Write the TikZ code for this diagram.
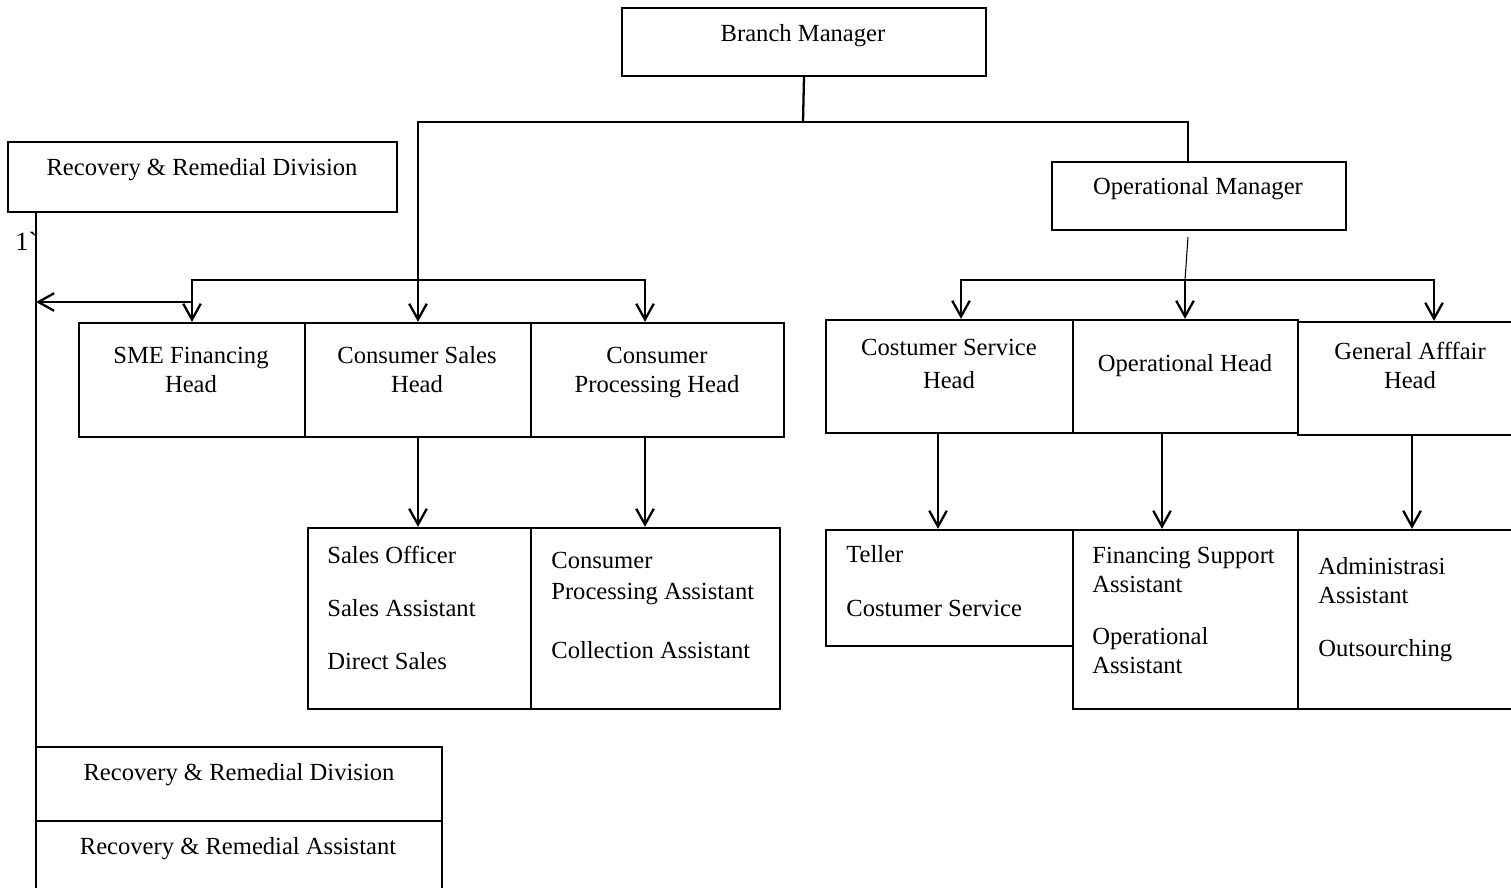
\documentclass[tikz,border=0pt]{standalone}
\usepackage{fontspec}
\setmainfont{Liberation Serif}
\newfontfamily\gravefont{Liberation Serif}
\usetikzlibrary{arrows.meta,fit}

\tikzset{
  box/.style={draw, line width=1.3pt, inner sep=0pt},
  txt/.style={font=\fontsize{14}{16.4}\selectfont, inner sep=0pt, align=center, anchor=base},
  itm/.style={font=\fontsize{14}{16.4}\selectfont, inner sep=0pt, align=left, anchor=base west},
  link/.style={line width=1.3pt},
  thinlink/.style={line width=0.6pt},
  arr/.style={line width=1.3pt, -{Straight Barb[length=9pt,width=10pt]}},
}

\begin{document}
\begin{tikzpicture}[x=0.02cm, y=-0.02cm]
\useasboundingbox (0,0) rectangle (1511,887);

% boxes
\node[box, fit={(622,8) (986,76)}] (bm) {};
\node[box, fit={(8,142) (397,212)}] (rrd) {};
\node[box, fit={(1052,162) (1346,230)}] (om) {};
\node[box, fit={(79,323) (305,437)}] (sme) {};
\node[box, fit={(305,323) (531,437)}] (csh) {};
\node[box, fit={(531,323) (784,437)}] (cph) {};
\node[box, fit={(826,320) (1073,433)}] (csv) {};
\node[box, fit={(1073,320) (1298,433)}] (oph) {};
\node[box, fit={(1298,322) (1516,435)}] (gah) {};
\node[box, fit={(308,528) (531,709)}] (sal) {};
\node[box, fit={(531,528) (780,709)}] (cpa) {};
\node[box, fit={(826,530) (1073,646)}] (tel) {};
\node[box, fit={(1073,530) (1298,709)}] (fsa) {};
\node[box, fit={(1298,530) (1516,709)}] (adm) {};
\node[box, fit={(36,747) (442,821)}] (rrd2) {};
\node[box, fit={(36,821) (442,893)}] (rra) {};

% texts (multi-line: base = last line)
\node[txt] (bm-t) at (803,41) {Branch Manager};
\node[txt] (rrd-t) at (202,175) {Recovery \& Remedial Division};
\node[font=\fontsize{15}{18}\gravefont, inner sep=0pt, anchor=base west] (one) at (15,250) {1`};
\node[txt] (om-t) at (1198,194) {Operational Manager};
\node[txt] (sme-t) at (191,392) {SME Financing\\Head};
\node[txt] (csh-t) at (417,392) {Consumer Sales\\Head};
\node[txt] (cph-t) at (657,392) {Consumer\\Processing Head};
\node[txt] (csv-t) at (949,388) {Costumer Service\\[2.3pt]Head};
\node[txt] (oph-t) at (1185,371) {Operational Head};
\node[txt] (gah-t) at (1410,388) {General Afffair\\Head};

\node[itm] (sal-a) at (327,563) {Sales Officer};
\node[itm] (sal-b) at (327,616) {Sales Assistant};
\node[itm] (sal-c) at (327,669) {Direct Sales};
\node[itm] (cpa-a) at (551,599) {Consumer\\[1pt]Processing Assistant};
\node[itm] (cpa-b) at (551,658) {Collection Assistant};
\node[itm] (tel-a) at (846,562) {Teller};
\node[itm] (tel-b) at (846,616) {Costumer Service};
\node[itm] (fsa-a) at (1092,592) {Financing Support\\Assistant};
\node[itm] (fsa-b) at (1092,673) {Operational\\Assistant};
\node[itm] (adm-a) at (1318,603) {Administrasi\\Assistant};
\node[itm] (adm-b) at (1318,656) {Outsourching};

\node[txt] (rrd2-t) at (239,780) {Recovery \& Remedial Division};
\node[txt] (rra-t) at (238,854) {Recovery \& Remedial Assistant};

% connectors
\coordinate (split) at (803,122);
\coordinate (omin) at (1188,162);
\coordinate (sbar) at (418,280);
\coordinate (xcp) at (645,280);
\coordinate (rrl) at (36,302);
\coordinate (omout) at (1188,237);
\coordinate (obar) at (1185,280);
\coordinate (xcs) at (961,280);
\coordinate (xga) at (1434,280);
\coordinate (xt) at (938,0);
\coordinate (xf) at (1162,0);
\coordinate (xa) at (1412,0);

\draw[link] (bm.south) -- (split);
\draw[arr] (split) -| (csh.north);
\draw[link] (split) -| (omin);

\draw[arr] (sbar) -| (sme.north);
\draw[arr] (sbar) -| (cph.north -| xcp);
\draw[arr] (sme.north |- rrl) -- (rrl);
\draw[thinlink] (rrd.south -| rrl) -- (rrd2.north -| rrl);

\draw[arr] (csh.south) -- (sal.north -| csh.south);
\draw[arr] (cph.south -| xcp) -- (cpa.north -| xcp);

\draw[thinlink] (omout) -- (obar);
\draw[arr] (obar) -| (csv.north -| xcs);
\draw[arr] (obar) -- (oph.north -| obar);
\draw[arr] (obar) -| (gah.north -| xga);

\draw[arr] (csv.south -| xt) -- (tel.north -| xt);
\draw[arr] (oph.south -| xf) -- (fsa.north -| xf);
\draw[arr] (gah.south -| xa) -- (adm.north -| xa);
\end{tikzpicture}
\end{document}
